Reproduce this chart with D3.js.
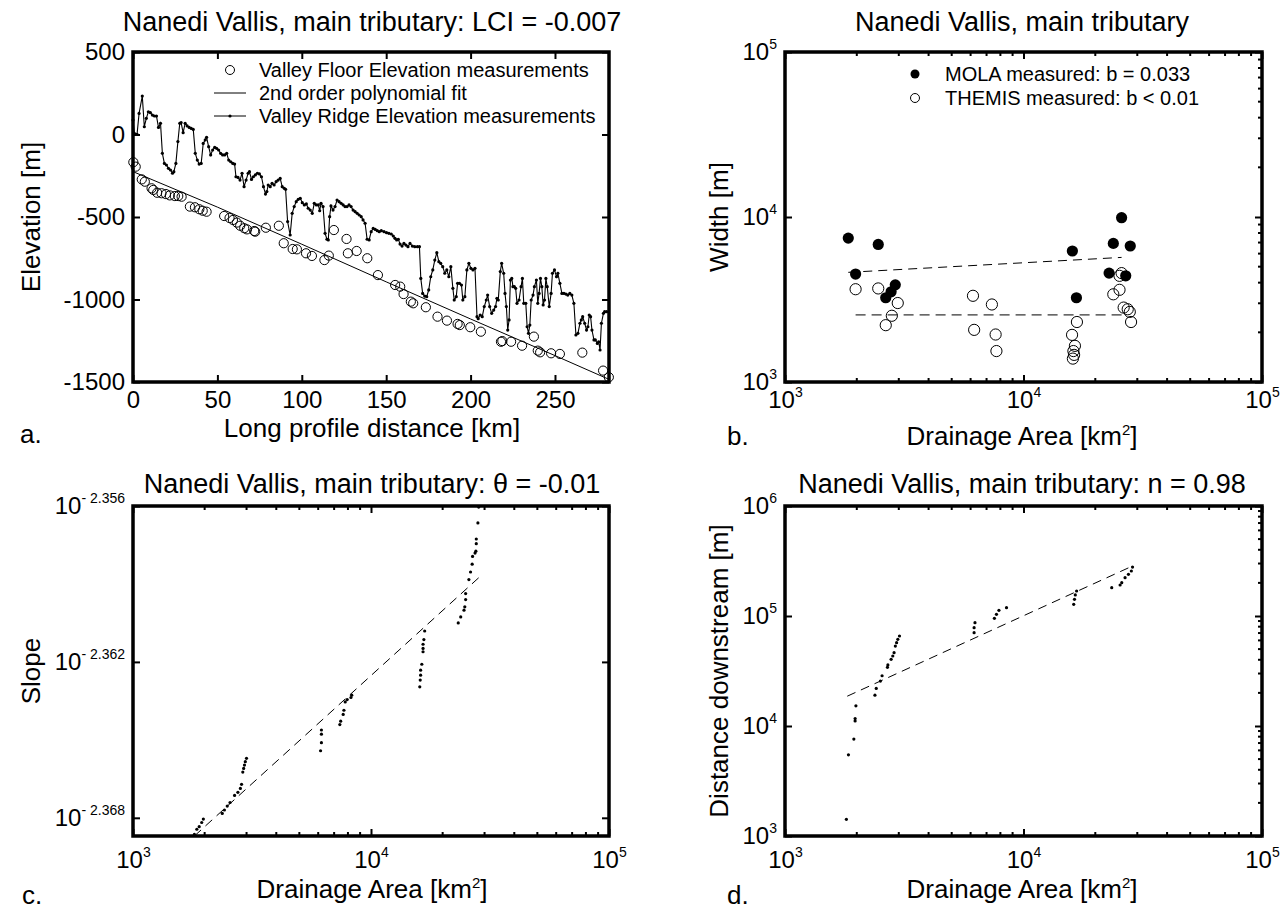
<!DOCTYPE html>
<html>
<head>
<meta charset="utf-8">
<script src="https://cdn.jsdelivr.net/npm/d3@7/dist/d3.min.js"></script>
<style>
body { margin: 0; background: #fff; }
text { font-family: "Liberation Sans", Arial, sans-serif; fill: #000; }
</style>
</head>
<body>
<svg id="fig" width="1283" height="910"></svg>
<script>
/* ---- panel a: long profile ---- */
const distTicks = [0, 50, 100, 150, 200, 250];
const elevTicks = [500, 0, -500, -1000, -1500];
// [distance km, elevation m]
const floorPoints = [[0.2,-168],[1.6,-195],[5.2,-272],[7,-286],[11,-326],[12,-336],[14.3,-353],[16.9,-356],[19.5,-361],[21.8,-369],[24.8,-373],[26.8,-373],[28.8,-377],[33.7,-437],[36.7,-441],[39.3,-453],[41.3,-462],[43.6,-468],[54,-494],[57.2,-506],[59.2,-518],[61.5,-534],[63.5,-553],[65.9,-568],[67.5,-575],[71.8,-585],[72.4,-589],[78.7,-565],[86.4,-553],[89.3,-659],[94.6,-694],[97.1,-696],[102.5,-720],[106,-736],[113.4,-761],[116,-734],[119,-579],[126.5,-633],[127.3,-720],[132.5,-706],[138.8,-750],[145.1,-852],[155.3,-912],[158.3,-922],[160.3,-967],[164.6,-1013],[166,-1023],[173.5,-1047],[180.4,-1104],[186,-1128],[192.3,-1148],[193.6,-1155],[199.8,-1168],[206.1,-1195],[218,-1256],[218.8,-1252],[224,-1256],[230.5,-1280],[237.5,-1225],[239.8,-1310],[241.2,-1320],[247.7,-1326],[252.9,-1330],[266.2,-1322],[278.5,-1431],[281.9,-1471]];
const polyFit = [[0,-225],[50,-440],[100,-665],[150,-893],[200,-1118],[250,-1340],[282,-1484]];
const ridgePoints = [[0,88],[0.8,7],[2.4,1],[3.6,128],[5.5,233],[6.7,47],[7.9,98],[9.1,138],[10.3,132],[11.5,118],[12.7,112],[13.9,112],[15.1,43],[16.3,68],[17.4,-114],[18.6,-175],[19.8,-185],[21,-205],[22.2,-215],[23.4,-235],[24.2,-225],[25.4,-175],[26.6,-43],[27.7,68],[28.5,72],[29.7,11],[30.9,68],[32.1,52],[33.3,43],[34.5,37],[35.7,31],[36.9,-114],[38.1,-155],[39.2,-179],[40.4,-175],[41.6,-54],[42.8,-33],[43.6,-17],[44.8,-74],[46,-124],[47.2,-94],[48.4,-78],[49.5,-84],[50.7,-94],[51.9,-114],[53.1,-124],[54.3,-124],[55.5,-114],[56.7,-155],[57.9,-165],[59.1,-175],[60.2,-179],[61,-256],[62.2,-260],[63.4,-276],[64.6,-235],[65.8,-316],[67,-276],[68.2,-235],[69,-225],[70.2,-272],[71.3,-256],[72.5,-245],[73.7,-235],[74.9,-239],[76.1,-256],[77.3,-316],[78.5,-361],[79.3,-346],[80.1,-306],[81.3,-316],[82.4,-296],[83.6,-306],[84.8,-286],[86,-276],[87.2,-266],[88.4,-316],[89.6,-326],[90.4,-332],[91.6,-528],[93.1,-609],[94.3,-478],[95.5,-437],[96.7,-407],[97.9,-393],[99.1,-387],[100.3,-413],[101.5,-427],[102.7,-421],[103.8,-447],[105,-458],[106.2,-478],[107.4,-417],[108.6,-427],[109.8,-427],[110.6,-462],[111.4,-417],[112.6,-437],[113.8,-599],[114.9,-635],[115.7,-639],[116.5,-498],[117.3,-433],[118.5,-458],[119.7,-437],[120.9,-397],[122.1,-407],[123.3,-417],[124.5,-427],[125.6,-437],[126.8,-437],[128,-427],[129.2,-437],[130.4,-458],[131.6,-468],[132.8,-478],[134,-488],[135.2,-498],[136.3,-518],[137.5,-538],[138.7,-635],[139.9,-639],[141.1,-589],[142.3,-569],[143.5,-575],[144.7,-583],[145.9,-589],[147.1,-583],[148.7,-589],[150.2,-595],[151.6,-599],[153,-603],[154.2,-615],[155.2,-629],[156.2,-639],[157.2,-635],[158.2,-664],[159.4,-676],[160.5,-660],[161.7,-670],[162.9,-680],[164.1,-660],[165.5,-676],[166.9,-680],[168.5,-680],[169.7,-680],[170.5,-872],[171.6,-963],[172.8,-979],[174,-983],[175.2,-942],[176.4,-862],[177.6,-821],[178.8,-761],[180,-716],[181.2,-771],[182.3,-781],[183.5,-801],[184.7,-841],[185.9,-821],[187.1,-862],[188.3,-801],[189.5,-932],[190.3,-1003],[191.5,-983],[192.3,-902],[193.4,-902],[194.6,-912],[195.4,-1003],[196.6,-983],[197.8,-821],[199,-781],[200.2,-811],[201.4,-821],[202.6,-811],[203.8,-1104],[204.5,-1116],[205.7,-1094],[206.9,-1104],[208.1,-1043],[209.3,-1003],[210.1,-973],[211.3,-1043],[212.5,-1084],[213.7,-1064],[214.8,-1043],[215.6,-993],[216.4,-1003],[217.6,-831],[218.4,-781],[219.6,-841],[220.4,-963],[221.2,-1043],[222,-1185],[222.8,-1124],[223.6,-882],[224.4,-872],[225.1,-922],[225.9,-922],[226.7,-932],[227.5,-1023],[228.7,-1003],[229.9,-922],[230.7,-872],[231.5,-1023],[232.7,-1023],[233.5,-1165],[234.3,-1205],[235.1,-1155],[235.9,-1003],[237,-973],[237.8,-922],[239,-882],[239.8,-1023],[240.6,-963],[241.4,-872],[242.2,-922],[243,-1033],[243.8,-1003],[244.6,-872],[245.4,-922],[246.6,-1043],[247.7,-963],[248.5,-841],[249.7,-821],[250.9,-862],[251.7,-841],[252.9,-902],[254.1,-963],[255.3,-963],[256.5,-967],[257.6,-973],[258.8,-963],[260,-973],[261.2,-1023],[262.4,-1215],[263.6,-1205],[264.8,-1144],[265.6,-1124],[266.4,-1104],[267.6,-1144],[268.7,-1185],[269.5,-1165],[270.3,-1094],[271.1,-1104],[271.9,-1185],[273.1,-1245],[273.9,-1245],[275.1,-1266],[275.9,-1256],[276.7,-1306],[277.5,-1144],[278.7,-1084],[279.4,-1074],[280.6,-1074]];
const legendA = ["Valley Floor Elevation measurements", "2nd order polynomial fit", "Valley Ridge Elevation measurements"];

/* ---- panel b: width vs drainage area ---- */
const areaTicks = [1e3, 1e4, 1e5];
const widthTicks = [1e3, 1e4, 1e5];
// [area km2, width m]
const molaWidths = [[1842,7450],[1977,4510],[2460,6820],[2645,3240],[2785,3520],[2900,3880],[16030,6220],[16670,3240],[22850,4570],[23800,6920],[25780,9900],[26830,4400],[28030,6670]];
const themisWidths = [[1977,3650],[2460,3690],[2645,2210],[2805,2520],[2970,3010],[6140,3330],[6210,2070],[7370,2950],[7640,1940],[7700,1540],[15980,1930],[16750,2310],[16430,1656],[16190,1540],[16300,1460],[16110,1386],[23800,3400],[25270,3620],[25270,4400],[25780,4570],[26300,2825],[27350,2760],[27900,2660],[28250,2310]];
const molaFit = [[1842,4620],[25780,5690]];
const themisFit = [[1977,2550],[26830,2550]];
const legendB = ["MOLA measured: b = 0.033", "THEMIS measured: b < 0.01"];

/* ---- panel c: slope vs drainage area (slope given as log10 exponent) ---- */
const slopeExpTicks = [-2.356, -2.362, -2.368];
const slopeExpDomain = [-2.3687, -2.356];
const slopePoints = [[1811,-2.36864],[1854,-2.36844],[1897,-2.36834],[1944,-2.36818],[1975,-2.36805],[2371,-2.36783],[2422,-2.3677],[2489,-2.36755],[2557,-2.36741],[2672,-2.36714],[2759,-2.36702],[2826,-2.36687],[2859,-2.36671],[2893,-2.36624],[2917,-2.3661],[2940,-2.36597],[2964,-2.36584],[2999,-2.36571],[6190,-2.36462],[6190,-2.36478],[6190,-2.36511],[6140,-2.36542],[7397,-2.36441],[7459,-2.36428],[7640,-2.36402],[7695,-2.36386],[7791,-2.36354],[7943,-2.36345],[8236,-2.36337],[8300,-2.36328],[16810,-2.36081],[16680,-2.36114],[16545,-2.36132],[16545,-2.36148],[16545,-2.36161],[16350,-2.36209],[16160,-2.36232],[16160,-2.36251],[16100,-2.3627],[16030,-2.36296],[23260,-2.3605],[23820,-2.36027],[24590,-2.36001],[24780,-2.35988],[24980,-2.3596],[24980,-2.35937],[25780,-2.35883],[26200,-2.35854],[26610,-2.35824],[26720,-2.35794],[27360,-2.35781],[27580,-2.35774],[27690,-2.35745],[27690,-2.35727],[28130,-2.35665],[28350,-2.35604]];
const slopeFit = [[1811,-2.3687],[28360,-2.35876]];

/* ---- panel d: distance downstream vs drainage area ---- */
const downTicks = [1e3, 1e4, 1e5, 1e6];
const downPoints = [[1809,1419],[1845,5470],[1944,7606],[1968,11110],[1968,11670],[1983,15240],[2383,19050],[2413,21940],[2512,25620],[2553,28640],[2689,34170],[2700,35890],[2786,40380],[2831,43290],[2866,46420],[2902,53330],[2937,57240],[2972,61380],[3020,65810],[6207,70490],[6207,78300],[6260,86920],[7551,95240],[7703,103500],[7888,112600],[8486,119100],[16240,127600],[16360,141800],[16490,155300],[16700,168700],[23440,181000],[25410,191400],[25820,201000],[26660,223000],[27540,239400],[28330,256500],[28650,278600]];
const downFit = [[1824,18660],[28650,284800]];

/* ---- layout ---- */
const svg = d3.select("#fig");
const frames = {
    a: {left: 133, right: 609, top: 52, bottom: 382},
    b: {left: 785, right: 1262, top: 52, bottom: 382},
    c: {left: 133, right: 609, top: 506, bottom: 836},
    d: {left: 785, right: 1262, top: 506, bottom: 836}
};
const fontTick = 24, fontTitle = 27, fontLabel = 26, fontLegend = 20, fontSup = 14;

function minorLogTicks(domain) {
    const out = [];
    const lo = Math.floor(Math.log10(domain[0])), hi = Math.ceil(Math.log10(domain[1]));
    for (let k = lo; k < hi; k++) {
        for (let m = 2; m < 10; m++) {
            const v = m * Math.pow(10, k);
            if (v > domain[0] && v < domain[1]) out.push(v);
        }
    }
    return out;
}

// superscript labels "10^k"
function supLabel(sel, base, exp) {
    sel.text(null);
    sel.append("tspan").text(base);
    sel.append("tspan").attr("dy", -11).attr("font-size", fontSup).text(exp);
}

function drawAxes(f, x, y, opt) {
    const g = svg.append("g");
    const bottom = g.append("g").attr("transform", `translate(0,${f.bottom})`)
        .call(d3.axisBottom(x).tickValues(opt.xTicks).tickSizeInner(-7).tickSizeOuter(0)
            .tickPadding(opt.xPad).tickFormat(opt.xLog ? null : d => String(d)));
    g.append("g").attr("transform", `translate(0,${f.top})`)
        .call(d3.axisTop(x).tickValues(opt.xTicks).tickSizeInner(-7).tickSizeOuter(0).tickFormat(""));
    const left = g.append("g").attr("transform", `translate(${f.left},0)`)
        .call(d3.axisLeft(y).tickValues(opt.yTicks).tickSizeInner(-7).tickSizeOuter(0)
            .tickPadding(8).tickFormat(d => String(d)));
    g.append("g").attr("transform", `translate(${f.right},0)`)
        .call(d3.axisRight(y).tickValues(opt.yTicks).tickSizeInner(-7).tickSizeOuter(0).tickFormat(""));
    g.selectAll(".domain").remove();
    g.selectAll(".tick line").attr("stroke", "#000").attr("stroke-width", 2);
    g.selectAll(".tick text").attr("font-size", fontTick).attr("font-family", null);

    if (opt.xLog) {
        bottom.selectAll(".tick text").each(function(d) {
            supLabel(d3.select(this), "10", Math.round(Math.log10(d)));
        });
        minorLogTicks(x.domain()).forEach(v => {
            [[f.bottom, -4], [f.top, 4]].forEach(([yy, len]) => {
                g.append("line").attr("x1", x(v)).attr("x2", x(v))
                    .attr("y1", yy).attr("y2", yy + len)
                    .attr("stroke", "#000").attr("stroke-width", 2);
            });
        });
    }
    if (opt.yLabelFn) {
        left.selectAll(".tick text").each(function(d) {
            const parts = opt.yLabelFn(d);
            supLabel(d3.select(this), parts[0], parts[1]);
        });
    }
    if (opt.yMinor) {
        minorLogTicks(y.domain()).forEach(v => {
            g.append("line").attr("x1", f.right).attr("x2", f.right - 4)
                .attr("y1", y(v)).attr("y2", y(v))
                .attr("stroke", "#000").attr("stroke-width", 2);
        });
    }
    // frame
    g.append("rect")
        .attr("x", f.left).attr("y", f.top)
        .attr("width", f.right - f.left).attr("height", f.bottom - f.top)
        .attr("fill", "none").attr("stroke", "#000").attr("stroke-width", 3.5);
}

function addText(x, y, str, opt = {}) {
    const t = svg.append("text").attr("x", x).attr("y", y)
        .attr("font-size", opt.size || fontLabel)
        .attr("text-anchor", opt.anchor || "middle")
        .text(str);
    if (opt.rotate) t.attr("transform", `rotate(-90,${x},${y})`);
    return t;
}

function kmSquaredLabel(x, y) {
    const t = addText(x, y, "Drainage Area [km");
    t.append("tspan").attr("dy", -10).attr("font-size", fontSup + 1).text("2");
    t.append("tspan").attr("dy", 10).text("]");
}

/* ---- panel a ---- */
{
    const f = frames.a;
    const x = d3.scaleLinear().domain([0, 282]).range([f.left, f.right]);
    const y = d3.scaleLinear().domain([-1500, 500]).range([f.bottom, f.top]);
    const g = svg.append("g");

    g.append("path").datum(polyFit)
        .attr("d", d3.line().x(d => x(d[0])).y(d => y(d[1])))
        .attr("fill", "none").attr("stroke", "#000").attr("stroke-width", 1);

    g.append("path").datum(ridgePoints)
        .attr("d", d3.line().x(d => x(d[0])).y(d => y(d[1])))
        .attr("fill", "none").attr("stroke", "#000").attr("stroke-width", 1.1);
    g.selectAll(".ridge").data(ridgePoints).join("circle")
        .attr("cx", d => x(d[0])).attr("cy", d => y(d[1])).attr("r", 1.6).attr("fill", "#000");

    g.selectAll(".floor").data(floorPoints).join("circle")
        .attr("cx", d => x(d[0])).attr("cy", d => y(d[1])).attr("r", 4.6)
        .attr("fill", "none").attr("stroke", "#000").attr("stroke-width", 1);

    drawAxes(f, x, y, {xTicks: distTicks, yTicks: elevTicks, xPad: 9});

    // legend
    const lx = 214, rows = [70, 93, 116];
    g.append("circle").attr("cx", lx + 16).attr("cy", rows[0]).attr("r", 4.5)
        .attr("fill", "none").attr("stroke", "#000");
    g.append("line").attr("x1", lx).attr("x2", lx + 32).attr("y1", rows[1]).attr("y2", rows[1]).attr("stroke", "#000");
    g.append("line").attr("x1", lx).attr("x2", lx + 32).attr("y1", rows[2]).attr("y2", rows[2]).attr("stroke", "#000");
    g.append("circle").attr("cx", lx + 16).attr("cy", rows[2]).attr("r", 1.6).attr("fill", "#000");
    legendA.forEach((s, i) => addText(lx + 45, rows[i] + 7, s, {size: fontLegend, anchor: "start"}));

    addText(372, 31, "Nanedi Vallis, main tributary: LCI = -0.007", {size: fontTitle});
    addText(372, 437, "Long profile distance [km]");
    addText(40, 217, "Elevation [m]", {rotate: true});
    addText(20, 443, "a.", {anchor: "start"});
}

/* ---- panel b ---- */
{
    const f = frames.b;
    const x = d3.scaleLog().domain([1e3, 1e5]).range([f.left, f.right]);
    const y = d3.scaleLog().domain([1e3, 1e5]).range([f.bottom, f.top]);
    const g = svg.append("g");

    [molaFit, themisFit].forEach((fit, i) => {
        g.append("path").datum(fit)
            .attr("d", d3.line().x(d => x(d[0])).y(d => y(d[1])))
            .attr("fill", "none").attr("stroke", "#000").attr("stroke-width", 1)
            .attr("stroke-dasharray", i === 0 ? "9,6" : "10,6");
    });
    g.selectAll(".mola").data(molaWidths).join("circle")
        .attr("cx", d => x(d[0])).attr("cy", d => y(d[1])).attr("r", 5.6).attr("fill", "#000");
    g.selectAll(".themis").data(themisWidths).join("circle")
        .attr("cx", d => x(d[0])).attr("cy", d => y(d[1])).attr("r", 5.6)
        .attr("fill", "none").attr("stroke", "#000").attr("stroke-width", 1);

    drawAxes(f, x, y, {xTicks: areaTicks, yTicks: widthTicks, xLog: true, yMinor: true, xPad: 9,
        yLabelFn: d => ["10", Math.round(Math.log10(d))]});

    const lx = 915, rows = [74, 98];
    g.append("circle").attr("cx", lx).attr("cy", rows[0]).attr("r", 4.5).attr("fill", "#000");
    g.append("circle").attr("cx", lx).attr("cy", rows[1]).attr("r", 4.5).attr("fill", "none").attr("stroke", "#000");
    legendB.forEach((s, i) => addText(lx + 30, rows[i] + 7, s, {size: fontLegend, anchor: "start"}));

    addText(1022, 31, "Nanedi Vallis, main tributary", {size: fontTitle});
    kmSquaredLabel(1022, 445);
    addText(728, 217, "Width [m]", {rotate: true});
    addText(727, 445, "b.", {anchor: "start"});
}

/* ---- panel c ---- */
{
    const f = frames.c;
    const x = d3.scaleLog().domain([1e3, 1e5]).range([f.left, f.right]);
    const y = d3.scaleLog().domain(slopeExpDomain.map(e => Math.pow(10, e))).range([f.bottom, f.top]);
    const g = svg.append("g");

    g.append("path").datum(slopeFit)
        .attr("d", d3.line().x(d => x(d[0])).y(d => y(Math.pow(10, d[1]))))
        .attr("fill", "none").attr("stroke", "#000").attr("stroke-width", 1).attr("stroke-dasharray", "9,6");
    g.selectAll(".slope").data(slopePoints).join("circle")
        .attr("cx", d => x(d[0])).attr("cy", d => y(Math.pow(10, d[1]))).attr("r", 1.6).attr("fill", "#000");

    drawAxes(f, x, y, {xTicks: areaTicks, yTicks: slopeExpTicks.map(e => Math.pow(10, e)), xLog: true, xPad: 15,
        yLabelFn: d => ["10", "- " + Math.abs(Math.log10(d)).toFixed(3)]});

    addText(372, 493, "Nanedi Vallis, main tributary: \u03b8 = -0.01", {size: fontTitle});
    kmSquaredLabel(372, 898);
    addText(40, 671, "Slope", {rotate: true});
    addText(22, 904, "c.", {anchor: "start"});
}

/* ---- panel d ---- */
{
    const f = frames.d;
    const x = d3.scaleLog().domain([1e3, 1e5]).range([f.left, f.right]);
    const y = d3.scaleLog().domain([1e3, 1e6]).range([f.bottom, f.top]);
    const g = svg.append("g");

    g.append("path").datum(downFit)
        .attr("d", d3.line().x(d => x(d[0])).y(d => y(d[1])))
        .attr("fill", "none").attr("stroke", "#000").attr("stroke-width", 1).attr("stroke-dasharray", "9,6");
    g.selectAll(".down").data(downPoints).join("circle")
        .attr("cx", d => x(d[0])).attr("cy", d => y(d[1])).attr("r", 1.6).attr("fill", "#000");

    drawAxes(f, x, y, {xTicks: areaTicks, yTicks: downTicks, xLog: true, yMinor: true, xPad: 15,
        yLabelFn: d => ["10", Math.round(Math.log10(d))]});

    addText(1022, 493, "Nanedi Vallis, main tributary: n = 0.98", {size: fontTitle});
    kmSquaredLabel(1022, 898);
    addText(728, 671, "Distance downstream [m]", {rotate: true});
    addText(727, 904, "d.", {anchor: "start"});
}
</script>
</body>
</html>
